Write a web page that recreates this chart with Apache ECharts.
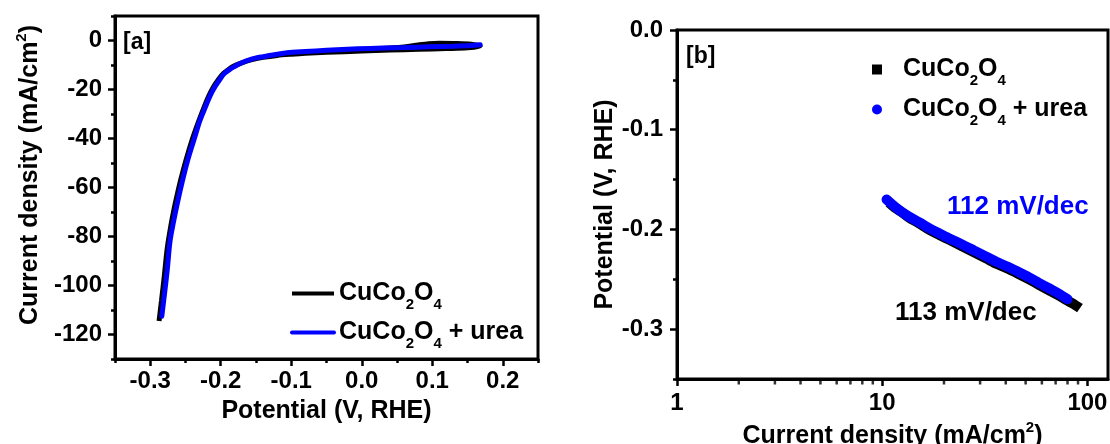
<!DOCTYPE html>
<html>
<head>
<meta charset="utf-8">
<title>CuCo2O4 LSV / Tafel</title>
<script src="https://cdn.jsdelivr.net/npm/echarts/dist/echarts.min.js"></script>
<style>
  html, body { margin: 0; padding: 0; background: #fff; }
  #main { width: 1110px; height: 444px; }
</style>
</head>
<body>
<div id="main"></div>
<script>
// [a] LSV, CuCo2O4 (loop, forward then back near 0.1 V)
var lsvV = [-0.2875, -0.284, -0.280, -0.276, -0.271, -0.266, -0.261, -0.256, -0.249, -0.240,
  -0.232, -0.224, -0.217, -0.210, -0.203, -0.196, -0.189, -0.182, -0.172, -0.157,
  -0.14, -0.12, -0.1, -0.08, -0.05, 0, 0.04, 0.08, 0.12, 0.15, 0.168,
  0.155, 0.13, 0.11, 0.095, 0.08, 0.065, 0.05, 0.03];
var lsvJ = [-114.5, -106, -96, -85, -76, -68.5, -62, -56, -48.5, -40,
  -33.5, -27.5, -22.7, -18.8, -15.8, -13.4, -11.8, -10.5, -9.3, -7.9,
  -6.9, -6.1, -5.6, -5.2, -4.8, -4.3, -3.9, -3.6, -3.3, -3.0, -2.2,
  -1.5, -1.2, -1.1, -1.3, -1.8, -2.4, -2.9, -3.3];

// [a] LSV, CuCo2O4 + urea
var lsvUreaV = [-0.2836, -0.280, -0.276, -0.272, -0.267, -0.262, -0.257, -0.252, -0.245, -0.237,
  -0.230, -0.222, -0.215, -0.208, -0.2016, -0.195, -0.188, -0.1815, -0.172, -0.1564,
  -0.14, -0.12, -0.106, -0.08, -0.05, -0.0055, 0.03, 0.06, 0.095, 0.13, 0.155, 0.168];
var lsvUreaJ = [-112.5, -104, -94, -82, -74, -67, -60.5, -54.5, -47, -39.6,
  -33, -27.3, -22.5, -18.8, -16, -13.5, -12, -10.8, -9.3, -7.6,
  -6.6, -5.6, -5.0, -4.5, -4.0, -3.4, -3.1, -2.9, -2.6, -2.3, -2.0, -1.7];

// [b] Tafel
var tafelJ = [10.8, 11.5, 12.5, 13.5, 15, 17, 19, 21.5, 24.5, 28, 32, 36.5, 41, 46, 52, 58, 65, 72, 80, 86, 92];
var tafelE = [-0.173, -0.178, -0.183, -0.188, -0.1935, -0.2005, -0.2055, -0.211, -0.217, -0.223, -0.229,
  -0.235, -0.2395, -0.2445, -0.250, -0.2555, -0.261, -0.266, -0.2715, -0.275, -0.279];
var tafelUreaJ = [10.5, 11.2, 12, 13, 14, 15.5, 17, 19, 21.5, 24.5, 28, 32, 36.5, 41, 46, 52, 58, 65, 72, 80];
var tafelUreaE = [-0.170, -0.175, -0.180, -0.185, -0.189, -0.194, -0.199, -0.204, -0.2095, -0.215, -0.221,
  -0.227, -0.233, -0.2375, -0.2425, -0.248, -0.2535, -0.259, -0.264, -0.270];

// minor ticks of the log axis
var logMinorTicks = [2, 3, 4, 5, 6, 7, 8, 9, 20, 30, 40, 50, 60, 70, 80, 90];

var FONT = 'Liberation Sans, Arial, sans-serif';
var BLUE = '#0000ff';

function pairs(xs, ys) {
  return xs.map(function (x, i) { return [x, ys[i]]; });
}

var subRich = {
  sp: { width: 16 },
  sub: { fontSize: 15, fontWeight: 'bold', fontFamily: FONT, color: '#000', padding: [22, 0, 0, 0] }
};
var supRich = {
  sup: { fontSize: 15, fontWeight: 'bold', fontFamily: FONT, color: '#000', padding: [0, 0, 18, 0] }
};

function legendName(name) {
  var s = '{sp| }CuCo{sub|2}O{sub|4}';
  if (name.indexOf('urea') >= 0) s += ' + urea';
  return s;
}

var mainAxis = {
  axisLine: { show: true, onZero: false, lineStyle: { color: '#000', width: 3 } },
  axisTick: { show: true, length: 7, lineStyle: { color: '#000', width: 2.5 } },
  splitLine: { show: false },
  axisLabel: { color: '#000', fontSize: 24, fontWeight: 'bold', fontFamily: FONT, showMinLabel: false, showMaxLabel: false },
  nameTextStyle: { color: '#000', fontSize: 25, fontWeight: 'bold', fontFamily: FONT, rich: supRich }
};
var minorAxis = {
  axisLine: { show: false, onZero: false },
  axisTick: { show: true, length: 4, lineStyle: { color: '#000', width: 2.5 } },
  axisLabel: { show: false },
  splitLine: { show: false }
};

function ax(base, extra) {
  return echarts.util.merge(echarts.util.clone(base), extra, true);
}

var myChart = echarts.init(document.getElementById('main'));

myChart.setOption({
  animation: false,
  backgroundColor: '#fff',
  grid: [
    { left: 115, top: 16, width: 423, height: 343, show: true, borderColor: '#000', borderWidth: 3, outerBoundsMode: 'none' },
    { left: 677, top: 30, width: 431, height: 349, show: true, borderColor: '#000', borderWidth: 3, outerBoundsMode: 'none' }
  ],
  xAxis: [
    ax(mainAxis, {
      type: 'value', gridIndex: 0, position: 'bottom', min: -0.35, max: 0.25, splitNumber: 6,
      name: 'Potential (V, RHE)', nameLocation: 'middle', nameGap: 40,
      axisLabel: { margin: 10, formatter: function (v) { return v.toFixed(1); } }
    }),
    ax(minorAxis, { type: 'value', gridIndex: 0, position: 'bottom', min: -0.35, max: 0.25, interval: 0.05 }),
    ax(mainAxis, {
      type: 'log', logBase: 10, gridIndex: 1, position: 'bottom', min: 1, max: 126,
      name: 'Current density (mA/cm{sup|2})', nameLocation: 'middle', nameGap: 37,
      axisLabel: { margin: 12, showMinLabel: true, formatter: function (v) { return String(Math.round(v)); } }
    })
  ],
  yAxis: [
    ax(mainAxis, {
      type: 'value', gridIndex: 0, position: 'left', min: -130, max: 10, splitNumber: 7,
      name: 'Current density (mA/cm{sup|2})', nameLocation: 'middle', nameGap: 68,
      nameTextStyle: { padding: [0, 0, 0, 25] },
      axisLabel: { margin: 13 }
    }),
    ax(minorAxis, { type: 'value', gridIndex: 0, position: 'left', min: -130, max: 10, interval: 10 }),
    ax(mainAxis, {
      type: 'value', gridIndex: 1, position: 'left', min: -0.35, max: 0, splitNumber: 4,
      name: 'Potential (V, RHE)', nameLocation: 'middle', nameGap: 56,
      axisLabel: { margin: 14, showMaxLabel: true, formatter: function (v) { return v.toFixed(1); } }
    }),
    ax(minorAxis, { type: 'value', gridIndex: 1, position: 'left', min: -0.35, max: 0, interval: 0.05 })
  ],
  legend: [
    {
      orient: 'vertical', left: 290, top: 281, padding: 0, itemWidth: 42, itemHeight: 4, itemGap: 8,
      data: ['CuCo2O4', 'CuCo2O4 + urea'],
      lineStyle: { width: 4 },
      formatter: function (name) { return legendName(name).replace('{sp| }', ''); },
      textStyle: { color: '#000', fontSize: 25, fontWeight: 'bold', fontFamily: FONT, rich: subRich },
      selectedMode: false
    },
    {
      orient: 'vertical', left: 872, top: 57, padding: 0, itemWidth: 10, itemHeight: 10, itemGap: 9,
      data: [{ name: 'Tafel CuCo2O4', icon: 'rect' }, { name: 'Tafel CuCo2O4 + urea', icon: 'circle' }],
      formatter: legendName,
      textStyle: { color: '#000', fontSize: 25, fontWeight: 'bold', fontFamily: FONT, rich: subRich },
      selectedMode: false
    }
  ],
  graphic: [
    { type: 'text', left: 123, top: 31, style: { text: '[a]', font: 'bold 23px ' + FONT, fill: '#000' } },
    { type: 'text', left: 686, top: 45, style: { text: '[b]', font: 'bold 23px ' + FONT, fill: '#000' } },
    { type: 'text', left: 947, top: 194, style: { text: '112 mV/dec', font: 'bold 26px ' + FONT, fill: BLUE } },
    { type: 'text', left: 895, top: 300, style: { text: '113 mV/dec', font: 'bold 26px ' + FONT, fill: '#000' } }
  ],
  series: [
    {
      name: 'CuCo2O4', type: 'line', xAxisIndex: 0, yAxisIndex: 0,
      data: pairs(lsvV, lsvJ), symbol: 'none', smooth: 0.3,
      lineStyle: { color: '#000', width: 5 }, itemStyle: { color: '#000' }
    },
    {
      name: 'CuCo2O4 + urea', type: 'line', xAxisIndex: 0, yAxisIndex: 0,
      data: pairs(lsvUreaV, lsvUreaJ), symbol: 'none', smooth: 0.3,
      lineStyle: { color: BLUE, width: 5, cap: 'round' }, itemStyle: { color: BLUE }
    },
    {
      name: 'Tafel CuCo2O4', type: 'line', xAxisIndex: 2, yAxisIndex: 2,
      data: pairs(tafelJ, tafelE), symbol: 'none', smooth: 0.3,
      lineStyle: { color: '#000', width: 10, cap: 'butt' }, itemStyle: { color: '#000' }
    },
    {
      name: 'Tafel CuCo2O4 + urea', type: 'line', xAxisIndex: 2, yAxisIndex: 2,
      data: pairs(tafelUreaJ, tafelUreaE), symbol: 'none', smooth: 0.3,
      lineStyle: { color: BLUE, width: 10, cap: 'round' }, itemStyle: { color: BLUE }
    },
    {
      name: 'log minor ticks', type: 'scatter', xAxisIndex: 2, yAxisIndex: 2, clip: false, silent: true,
      data: logMinorTicks.map(function (t) { return [t, -0.35]; }),
      symbol: 'rect', symbolSize: [2.5, 4], symbolOffset: [0, 3.5],
      itemStyle: { color: '#000' }
    }
  ]
});
</script>
</body>
</html>
